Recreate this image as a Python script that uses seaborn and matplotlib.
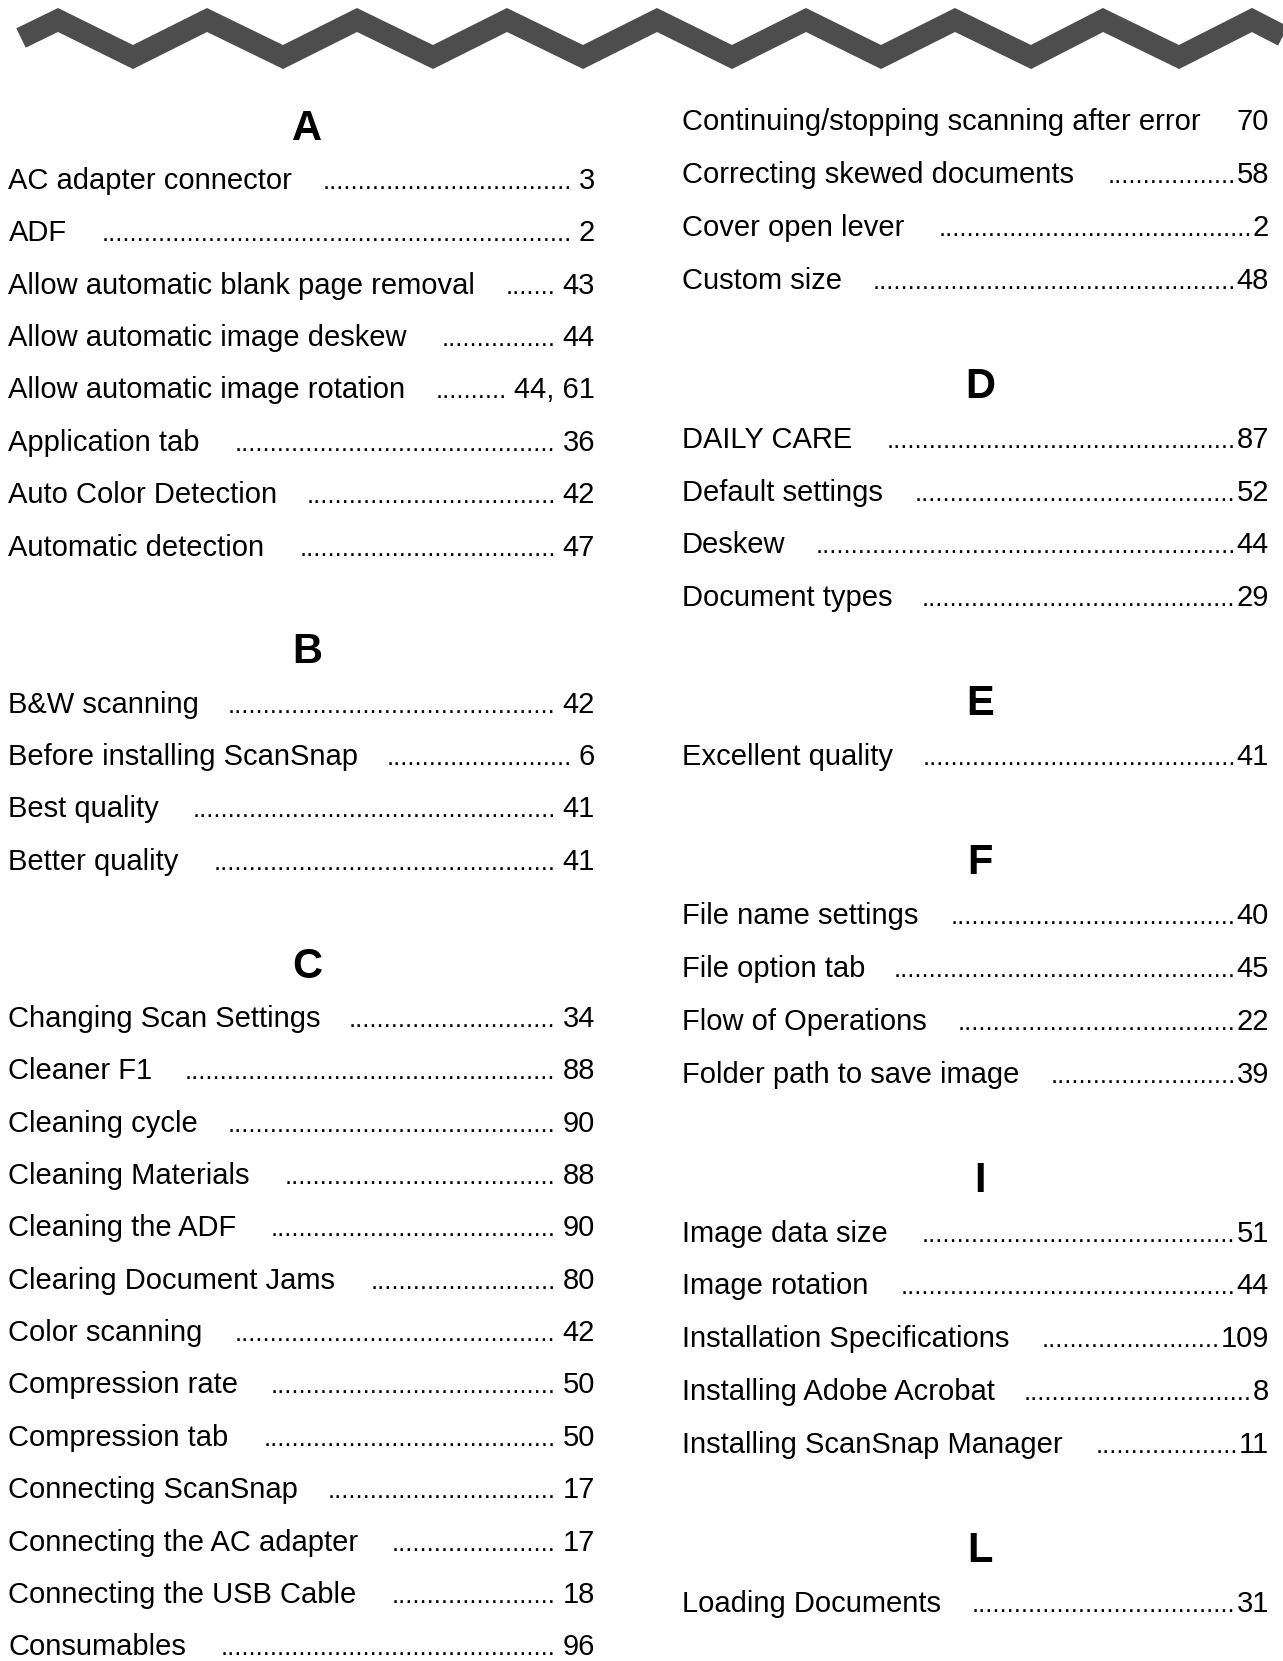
import matplotlib
matplotlib.use("Agg")
import matplotlib.pyplot as plt
import seaborn as sns

# Zigzag band across the top of the page (centre line, pixel units)
zig_x = [21, 58, 133, 207, 283, 357, 433, 507, 583, 657, 732, 806, 881, 955, 1031, 1103, 1179, 1252, 1283]
zig_y = [38, 20, 57, 20, 57, 20, 57, 20, 57, 20, 57, 20, 57, 20, 57, 20, 57, 20, 36]

# Index sections
sections = ["A", "B", "C", "D", "E", "F", "I", "L"]

a_terms = ["AC adapter connector", "ADF", "Allow automatic blank page removal",
           "Allow automatic image deskew", "Allow automatic image rotation",
           "Application tab", "Auto Color Detection", "Automatic detection"]
a_pages = ["3", "2", "43", "44", "44, 61", "36", "42", "47"]

b_terms = ["B&W scanning", "Before installing ScanSnap", "Best quality", "Better quality"]
b_pages = ["42", "6", "41", "41"]

c_terms = ["Changing Scan Settings", "Cleaner F1", "Cleaning cycle", "Cleaning Materials",
           "Cleaning the ADF", "Clearing Document Jams", "Color scanning",
           "Compression rate", "Compression tab", "Connecting ScanSnap",
           "Connecting the AC adapter", "Connecting the USB Cable", "Consumables",
           "Continuing/stopping scanning after error", "Correcting skewed documents",
           "Cover open lever", "Custom size"]
c_pages = ["34", "88", "90", "88", "90", "80", "42", "50", "50", "17", "17", "18", "96",
           "70", "58", "2", "48"]

d_terms = ["DAILY CARE", "Default settings", "Deskew", "Document types"]
d_pages = ["87", "52", "44", "29"]

e_terms = ["Excellent quality"]
e_pages = ["41"]

f_terms = ["File name settings", "File option tab", "Flow of Operations", "Folder path to save image"]
f_pages = ["40", "45", "22", "39"]

i_terms = ["Image data size", "Image rotation", "Installation Specifications",
           "Installing Adobe Acrobat", "Installing ScanSnap Manager"]
i_pages = ["51", "44", "109", "8", "11"]

l_terms = ["Loading Documents"]
l_pages = ["31"]

all_terms = [a_terms, b_terms, c_terms, d_terms, e_terms, f_terms, i_terms, l_terms]
all_pages = [a_pages, b_pages, c_pages, d_pages, e_pages, f_pages, i_pages, l_pages]

# page layout (pixels)
W, H = 1283, 1661
left_rows = 30
columns = [
    # x_text, x_page, x_header, first row centre, row pitch, space before page
    dict(x=8.5, xr=595, xh=307, y0=127.6, pitch=52.37, sep=7),
    dict(x=682, xr=1269, xh=980, y0=121.0, pitch=52.93, sep=1),
]

# flatten into lines: (kind, text, page)
lines = []
for i, (sec, terms, pages) in enumerate(zip(sections, all_terms, all_pages)):
    if i > 0:
        lines.append(("blank", "", ""))
    lines.append(("head", sec, ""))
    for t, p in zip(terms, pages):
        lines.append(("item", t, p))

sns.set_theme(style="white")
plt.rcParams["font.family"] = ["Liberation Sans", "DejaVu Sans"]

fig = plt.figure(figsize=(W / 100, H / 100), dpi=100)
ax = fig.add_axes([0, 0, 1, 1])
ax.set_xlim(0, W)
ax.set_ylim(H, 0)
ax.axis("off")

sns.lineplot(x=zig_x, y=zig_y, sort=False, color="#4d4d4d", linewidth=15.5, ax=ax)
zz = ax.lines[-1]
zz.set_solid_joinstyle("miter")
zz.set_solid_capstyle("butt")

item_fs = 21
dot_fs = 18.5
head_fs = 30
renderer = fig.canvas.get_renderer()

probe = ax.text(0, 0, "." * 20, fontsize=dot_fs)
dot_w = probe.get_window_extent(renderer).width / 20
probe.remove()

for n, (kind, text, page) in enumerate(lines):
    col = columns[0] if n < left_rows else columns[1]
    row = n if n < left_rows else n - left_rows
    yc = col["y0"] + row * col["pitch"]
    if kind == "head":
        ax.text(col["xh"], yc + 12, text, fontsize=head_fs, fontweight="bold",
                ha="center", va="baseline", color="black")
    elif kind == "item":
        t = ax.text(col["x"], yc + 9, text, fontsize=item_fs, ha="left",
                    va="baseline", color="black")
        p = ax.text(col["xr"], yc + 9, page, fontsize=item_fs, ha="right",
                    va="baseline", color="black")
        t_right = t.get_window_extent(renderer).x1
        p_left = p.get_window_extent(renderer).x0
        avail = p_left - col["sep"] - t_right - 28
        ndots = int(avail // dot_w)
        if ndots >= 4:
            ax.text(p_left - col["sep"], yc + 9, "." * ndots, fontsize=dot_fs,
                    ha="right", va="baseline", color="black")

fig.savefig("out.png", dpi=100, facecolor="white")
